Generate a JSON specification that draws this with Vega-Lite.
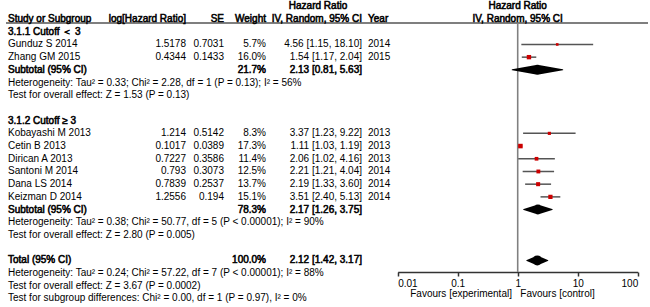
{
  "$schema": "https://vega.github.io/schema/vega-lite/v6.json",
  "width": 650,
  "height": 307,
  "autosize": {"type": "none"},
  "padding": 0,
  "background": "white",
  "config": {
    "view": {"stroke": null},
    "text": {"font": "Liberation Sans", "fontSize": 10, "fill": "#000000", "stroke": "#000000", "baseline": "middle"},
    "axisX": {
      "orient": "bottom", "offset": -35, "grid": false,
      "domainColor": "#333333", "domainWidth": 1.5,
      "tickColor": "#333333", "tickWidth": 1.5, "tickSize": 4,
      "labelFlush": true, "labelFont": "Liberation Sans", "labelFontSize": 10, "labelColor": "#000000", "labelPadding": 2,
      "titleFont": "Liberation Sans", "titleFontSize": 10, "titleFontWeight": "normal", "titleColor": "#000000",
      "titleX": 502, "titleY": 21, "titleAlign": "center", "titleBaseline": "middle"
    }
  },
  "datasets": {
    "rows": [
      {"row": -2, "kind": "head2", "ci": "Hazard Ratio"},
      {"row": -1, "kind": "head", "label": "Study or Subgroup", "loghr": "log[Hazard Ratio]", "se": "SE", "weight": "Weight", "ci": "IV, Random, 95% CI", "year": "Year"},
      {"row": 0, "kind": "group", "label": "3.1.1 Cutoff ＜ 3"},
      {"row": 1, "kind": "study", "label": "Gunduz S 2014", "loghr": "1.5178", "se": "0.7031", "weight": "5.7%", "w": 5.7, "ci": "4.56 [1.15, 18.10]", "year": "2014", "hr": 4.56, "lo": 1.15, "hi": 18.10},
      {"row": 2, "kind": "study", "label": "Zhang GM 2015", "loghr": "0.4344", "se": "0.1433", "weight": "16.0%", "w": 16.0, "ci": "1.54 [1.17, 2.04]", "year": "2015", "hr": 1.54, "lo": 1.17, "hi": 2.04},
      {"row": 3, "kind": "subtotal", "label": "Subtotal (95% CI)", "weight": "21.7%", "ci": "2.13 [0.81, 5.63]"},
      {"row": 4, "kind": "note", "label": "Heterogeneity: Tau² = 0.33; Chi² = 2.28, df = 1 (P = 0.13); I² = 56%"},
      {"row": 5, "kind": "note", "label": "Test for overall effect: Z = 1.53 (P = 0.13)"},
      {"row": 7, "kind": "group", "label": "3.1.2 Cutoff ≥ 3"},
      {"row": 8, "kind": "study", "label": "Kobayashi M 2013", "loghr": "1.214", "se": "0.5142", "weight": "8.3%", "w": 8.3, "ci": "3.37 [1.23, 9.22]", "year": "2013", "hr": 3.37, "lo": 1.23, "hi": 9.22},
      {"row": 9, "kind": "study", "label": "Cetin B 2013", "loghr": "0.1017", "se": "0.0389", "weight": "17.3%", "w": 17.3, "ci": "1.11 [1.03, 1.19]", "year": "2013", "hr": 1.11, "lo": 1.03, "hi": 1.19},
      {"row": 10, "kind": "study", "label": "Dirican A 2013", "loghr": "0.7227", "se": "0.3586", "weight": "11.4%", "w": 11.4, "ci": "2.06 [1.02, 4.16]", "year": "2013", "hr": 2.06, "lo": 1.02, "hi": 4.16},
      {"row": 11, "kind": "study", "label": "Santoni M 2014", "loghr": "0.793", "se": "0.3073", "weight": "12.5%", "w": 12.5, "ci": "2.21 [1.21, 4.04]", "year": "2014", "hr": 2.21, "lo": 1.21, "hi": 4.04},
      {"row": 12, "kind": "study", "label": "Dana LS 2014", "loghr": "0.7839", "se": "0.2537", "weight": "13.7%", "w": 13.7, "ci": "2.19 [1.33, 3.60]", "year": "2014", "hr": 2.19, "lo": 1.33, "hi": 3.60},
      {"row": 13, "kind": "study", "label": "Keizman D 2014", "loghr": "1.2556", "se": "0.194", "weight": "15.1%", "w": 15.1, "ci": "3.51 [2.40, 5.13]", "year": "2014", "hr": 3.51, "lo": 2.40, "hi": 5.13},
      {"row": 14, "kind": "subtotal", "label": "Subtotal (95% CI)", "weight": "78.3%", "ci": "2.17 [1.26, 3.75]"},
      {"row": 15, "kind": "note", "label": "Heterogeneity: Tau² = 0.38; Chi² = 50.77, df = 5 (P < 0.00001); I² = 90%"},
      {"row": 16, "kind": "note", "label": "Test for overall effect: Z = 2.80 (P = 0.005)"},
      {"row": 18, "kind": "total", "label": "Total (95% CI)", "weight": "100.0%", "ci": "2.12 [1.42, 3.17]"},
      {"row": 19, "kind": "note", "label": "Heterogeneity: Tau² = 0.24; Chi² = 57.22, df = 7 (P < 0.00001); I² = 88%"},
      {"row": 20, "kind": "note", "label": "Test for overall effect: Z = 3.67 (P = 0.0002)"},
      {"row": 21, "kind": "note", "label": "Test for subgroup differences: Chi² = 0.00, df = 1 (P = 0.97), I² = 0%"}
    ],
    "diamonds": [
      {"row": 3, "pt": "lo", "v": 0.81}, {"row": 3, "pt": "est", "v": 2.13}, {"row": 3, "pt": "hi", "v": 5.63},
      {"row": 14, "pt": "lo", "v": 1.26}, {"row": 14, "pt": "est", "v": 2.17}, {"row": 14, "pt": "hi", "v": 3.75},
      {"row": 18, "pt": "lo", "v": 1.42}, {"row": 18, "pt": "est", "v": 2.12}, {"row": 18, "pt": "hi", "v": 3.17}
    ]
  },
  "data": {"name": "rows"},
  "layer": [
    {
      "data": {"values": [{}]},
      "mark": {"type": "rule", "color": "#555555", "strokeWidth": 1.5},
      "encoding": {
        "x": {"value": 6}, "x2": {"value": 648},
        "y": {"datum": -0.69, "type": "quantitative", "scale": {"domain": [-2.5, 21.67], "reverse": true, "nice": false, "zero": false}, "axis": null}
      }
    },
    {
      "data": {"values": [{}]},
      "mark": {"type": "rule", "color": "#808080", "strokeWidth": 1.6},
      "encoding": {
        "x": {"datum": 1, "type": "quantitative", "scale": {"type": "log", "domain": [0.01, 100], "range": [397.7, 637.7], "nice": false}, "axis": {"values": [0.01, 0.1, 1, 10, 100], "format": "~g", "title": "Favours [experimental]\u00a0\u00a0\u00a0Favours [control]"}},
        "y": {"datum": -0.69, "type": "quantitative", "scale": {"domain": [-2.5, 21.67], "reverse": true, "nice": false, "zero": false}, "axis": null},
        "y2": {"datum": 18.91}
      }
    },
    {
      "transform": [{"filter": "datum.kind === 'study'"}],
      "mark": {"type": "rule", "color": "#555555", "strokeWidth": 1.5},
      "encoding": {
        "x": {"field": "lo", "type": "quantitative", "scale": {"type": "log", "domain": [0.01, 100], "range": [397.7, 637.7], "nice": false}, "axis": {"values": [0.01, 0.1, 1, 10, 100], "format": "~g", "title": "Favours [experimental]\u00a0\u00a0\u00a0Favours [control]"}},
        "x2": {"field": "hi"},
        "y": {"field": "row", "type": "quantitative", "scale": {"domain": [-2.5, 21.67], "reverse": true, "nice": false, "zero": false}, "axis": null}
      }
    },
    {
      "transform": [{"filter": "datum.kind === 'study'"}],
      "mark": {"type": "point", "shape": "square", "filled": true, "color": "#cc0000", "opacity": 1},
      "encoding": {
        "x": {"field": "hr", "type": "quantitative", "scale": {"type": "log", "domain": [0.01, 100], "range": [397.7, 637.7], "nice": false}, "axis": {"values": [0.01, 0.1, 1, 10, 100], "format": "~g", "title": "Favours [experimental]\u00a0\u00a0\u00a0Favours [control]"}},
        "y": {"field": "row", "type": "quantitative", "scale": {"domain": [-2.5, 21.67], "reverse": true, "nice": false, "zero": false}, "axis": null},
        "size": {"field": "w", "type": "quantitative", "scale": {"domain": [0, 20], "range": [0, 24], "zero": true}, "legend": null}
      }
    },
    {
      "data": {"name": "diamonds"},
      "mark": {"type": "trail", "color": "#000000"},
      "encoding": {
        "x": {"field": "v", "type": "quantitative", "scale": {"type": "log", "domain": [0.01, 100], "range": [397.7, 637.7], "nice": false}, "axis": {"values": [0.01, 0.1, 1, 10, 100], "format": "~g", "title": "Favours [experimental]\u00a0\u00a0\u00a0Favours [control]"}},
        "y": {"field": "row", "type": "quantitative", "scale": {"domain": [-2.5, 21.67], "reverse": true, "nice": false, "zero": false}, "axis": null},
        "size": {"field": "pt", "type": "ordinal", "scale": {"type": "ordinal", "domain": ["lo", "est", "hi"], "range": [0, 10, 0]}, "legend": null},
        "detail": {"field": "row", "type": "nominal"}
      }
    },
    {
      "data": {"values": [{"row": -2, "t": "Hazard Ratio"}, {"row": -1, "t": "IV, Random, 95% CI"}]},
      "mark": {"type": "text", "align": "center", "strokeWidth": 0.55},
      "encoding": {
        "x": {"datum": 1, "type": "quantitative", "scale": {"type": "log", "domain": [0.01, 100], "range": [397.7, 637.7], "nice": false}, "axis": {"values": [0.01, 0.1, 1, 10, 100], "format": "~g", "title": "Favours [experimental]\u00a0\u00a0\u00a0Favours [control]"}},
        "y": {"field": "row", "type": "quantitative", "scale": {"domain": [-2.5, 21.67], "reverse": true, "nice": false, "zero": false}, "axis": null},
        "text": {"field": "t"}
      }
    },
    {
      "transform": [{"filter": "isValid(datum.label)"}],
      "mark": {"type": "text", "align": "left"},
      "encoding": {
        "x": {"value": 8}, "y": {"field": "row", "type": "quantitative"}, "text": {"field": "label"},
        "strokeWidth": {"condition": {"test": "datum.kind === 'study' || datum.kind === 'note'", "value": 0}, "value": 0.55}
      }
    },
    {
      "transform": [{"filter": "isValid(datum.loghr)"}],
      "mark": {"type": "text", "align": "right"},
      "encoding": {
        "x": {"value": 186}, "y": {"field": "row", "type": "quantitative"}, "text": {"field": "loghr"},
        "strokeWidth": {"condition": {"test": "datum.kind === 'study'", "value": 0}, "value": 0.55}
      }
    },
    {
      "transform": [{"filter": "isValid(datum.se)"}],
      "mark": {"type": "text", "align": "right"},
      "encoding": {
        "x": {"value": 224}, "y": {"field": "row", "type": "quantitative"}, "text": {"field": "se"},
        "strokeWidth": {"condition": {"test": "datum.kind === 'study'", "value": 0}, "value": 0.55}
      }
    },
    {
      "transform": [{"filter": "isValid(datum.weight)"}],
      "mark": {"type": "text", "align": "right"},
      "encoding": {
        "x": {"value": 266}, "y": {"field": "row", "type": "quantitative"}, "text": {"field": "weight"},
        "strokeWidth": {"condition": {"test": "datum.kind === 'study'", "value": 0}, "value": 0.55}
      }
    },
    {
      "transform": [{"filter": "isValid(datum.ci) && datum.kind !== 'head2'"}],
      "mark": {"type": "text", "align": "right"},
      "encoding": {
        "x": {"value": 362}, "y": {"field": "row", "type": "quantitative"}, "text": {"field": "ci"},
        "strokeWidth": {"condition": {"test": "datum.kind === 'study'", "value": 0}, "value": 0.55}
      }
    },
    {
      "transform": [{"filter": "datum.kind === 'head2'"}],
      "mark": {"type": "text", "align": "center", "strokeWidth": 0.55},
      "encoding": {"x": {"value": 318}, "y": {"field": "row", "type": "quantitative"}, "text": {"field": "ci"}}
    },
    {
      "transform": [{"filter": "isValid(datum.year)"}],
      "mark": {"type": "text", "align": "left"},
      "encoding": {
        "x": {"value": 368}, "y": {"field": "row", "type": "quantitative"}, "text": {"field": "year"},
        "strokeWidth": {"condition": {"test": "datum.kind === 'study'", "value": 0}, "value": 0.55}
      }
    }
  ]
}
